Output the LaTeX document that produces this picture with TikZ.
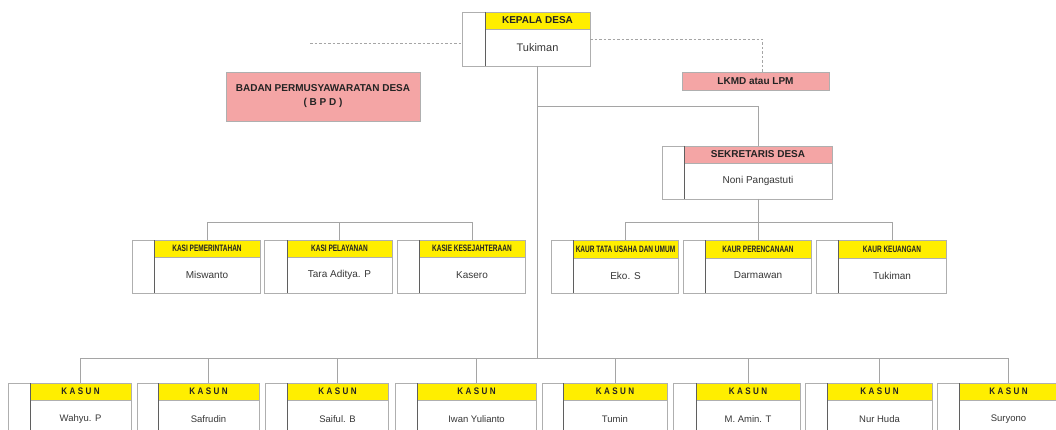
\documentclass[tikz,border=0pt]{standalone}
\usepackage{fontspec}
\setmainfont{Liberation Sans}
\newfontfamily\kasif[FakeStretch=0.7]{Liberation Sans}
\newfontfamily\kasunf[FakeStretch=0.85,LetterSpace=25]{Liberation Sans}
\usetikzlibrary{calc}
\definecolor{kuning}{RGB}{255,238,0}
\definecolor{merah}{RGB}{244,165,165}
\definecolor{framec}{RGB}{175,175,175}
\definecolor{divc}{RGB}{95,95,95}
\definecolor{linec}{RGB}{165,165,165}
\definecolor{txtc}{RGB}{35,35,35}
\definecolor{nmc}{RGB}{55,55,55}
\def\hdc{kuning}
\tikzset{
  cellL/.style={draw=framec, line width=0.8pt, fill=white, anchor=north west, inner sep=0pt, outer sep=0pt},
  cellR/.style={draw=framec, line width=0.8pt, fill=white, anchor=north west, inner sep=0pt, outer sep=0pt},
  head/.style={draw=framec, line width=0.6pt, fill=\hdc, anchor=north west, inner sep=0pt, outer sep=0pt, text=txtc},
  person/.style={inner sep=0pt, text=nmc},
  divider/.style={draw=divc, line width=0.8pt},
  conn/.style={draw=linec, line width=0.9pt},
  dashc/.style={draw=linec, line width=0.8pt, dash pattern=on 2.5pt off 2pt},
  pinkbox/.style={draw=framec, line width=0.8pt, fill=merah, anchor=north west, inner sep=0pt, outer sep=0pt, text=txtc, font=\bfseries\fontsize{10}{14}\selectfont, align=center},
}
% #1 name, #2 left, #3 top, #4 right, #5 bottom, #6 divider x, #7 header bottom, #8 title, #9 person
\newcommand\obox[9]{%
  \node[cellL, minimum width={(#6-#2)*1pt}, minimum height={(#5-#3)*1pt}] (#1-l) at (#2,#3) {};
  \node[cellR, minimum width={(#4-#6)*1pt}, minimum height={(#5-#3)*1pt}] (#1) at (#6,#3) {};
  \node[head, minimum width={(#4-#6)*1pt}, minimum height={(#7-#3)*1pt}] (#1-h) at (#6,#3) {#8};
  \node[person] (#1-p) at ($(#6,#7)!0.5!(#4,#5)$) {#9};
  \draw[divider] (#1.north west) -- (#1.south west);
}
\newcommand\kasit{\kasif\bfseries\fontsize{9.3}{10}\selectfont}
\newcommand\kasunt{\kasunf\bfseries\fontsize{9.5}{10}\selectfont KASUN}
\newcommand\kasunn{\fontsize{9.5}{12}\selectfont}
\newcommand\midn{\fontsize{10}{12}\selectfont}
\begin{document}
\begin{tikzpicture}[x=1pt,y=-1pt]
\clip (0,0) rectangle (1056,430);
\fill[white] (0,0) rectangle (1056,430);

% coordinates for buses
\coordinate (kasibus) at (0,222);
\coordinate (kaurbus) at (0,222);
\coordinate (sekbus) at (0,106);
\coordinate (kasunbus) at (0,358);
\coordinate (bpdend) at (310,43);
\coordinate (lkx) at (762,0);

% Kepala Desa
\obox{kepala}{462}{12}{590}{66}{485}{29}{\bfseries\fontsize{10}{12}\selectfont KEPALA DESA}{\fontsize{11}{13}\selectfont Tukiman}

% BPD and LKMD
\node[pinkbox, minimum width=194pt, minimum height=49pt] (bpd) at (226,72) {BADAN PERMUSYAWARATAN DESA\\( B P D )};
\node[pinkbox, minimum width=147pt, minimum height=18pt] (lkmd) at (682,72) {LKMD atau LPM};

% Sekretaris
{\def\hdc{merah}
\obox{sek}{662}{146}{832}{199}{684}{163}{\bfseries\fontsize{10}{12}\selectfont SEKRETARIS DESA}{\fontsize{10}{12}\selectfont Noni Pangastuti}
}

% KASI
\obox{kasi1}{132}{240}{260}{293}{154}{257}{\kasit KASI PEMERINTAHAN}{\midn Miswanto}
\obox{kasi2}{264}{240}{392}{293}{287}{257}{\kasit KASI PELAYANAN}{\midn Tara Aditya. P}
\obox{kasi3}{397}{240}{525}{293}{419}{257}{\kasit KASIE KESEJAHTERAAN}{\midn Kasero}

% KAUR
\obox{kaur1}{551}{240}{678}{293}{573}{258}{\kasit KAUR TATA USAHA DAN UMUM}{\midn Eko. S}
\obox{kaur2}{683}{240}{811}{293}{705}{258}{\kasit KAUR PERENCANAAN}{\midn Darmawan}
\obox{kaur3}{816}{240}{946}{293}{838}{258}{\kasit KAUR KEUANGAN}{\midn Tukiman}

% KASUN
\obox{k1}{8}{383}{131}{438}{30}{400}{\kasunt}{\kasunn Wahyu. P}
\obox{k2}{137}{383}{259}{438}{158}{400}{\kasunt}{\kasunn Safrudin}
\obox{k3}{265}{383}{388}{438}{287}{400}{\kasunt}{\kasunn Saiful. B}
\obox{k4}{395}{383}{536}{438}{417}{400}{\kasunt}{\kasunn Iwan Yulianto}
\obox{k5}{542}{383}{667}{438}{563}{400}{\kasunt}{\kasunn Tumin}
\obox{k6}{673}{383}{800}{438}{696}{400}{\kasunt}{\kasunn M. Amin. T}
\obox{k7}{805}{383}{932}{438}{827}{400}{\kasunt}{\kasunn Nur Huda}
\obox{k8}{937}{383}{1058}{438}{959}{400}{\kasunt}{\kasunn Suryono}

% dashed links
\draw[dashc] (bpdend) -- (bpdend -| kepala-l.west);
\draw[dashc] (kepala.east |- 0,39) -| (lkx |- lkmd.north);

% trunk
\draw[conn] (kepala.south) -- (kepala.south |- kasunbus);
\draw[conn] (kepala.south |- sekbus) -| (sek.north);

% KAUR bus
\draw[conn] (sek.south) -- (kaur2.north);
\draw[conn] (kaur1.north) |- (kaurbus -| kaur3.north) -- (kaur3.north);

% KASI bus
\draw[conn] (kasi1.north) |- (kasibus -| kasi3.north) -- (kasi3.north);
\draw[conn] (kasi2.north) -- (kasi2.north |- kasibus);

% KASUN bus
\draw[conn] (k1.north) |- (kasunbus -| k8.north) -- (k8.north);
\foreach \k in {k2,k3,k4,k5,k6,k7}{
  \draw[conn] (\k.north) -- (\k.north |- kasunbus);
}
\end{tikzpicture}
\end{document}
